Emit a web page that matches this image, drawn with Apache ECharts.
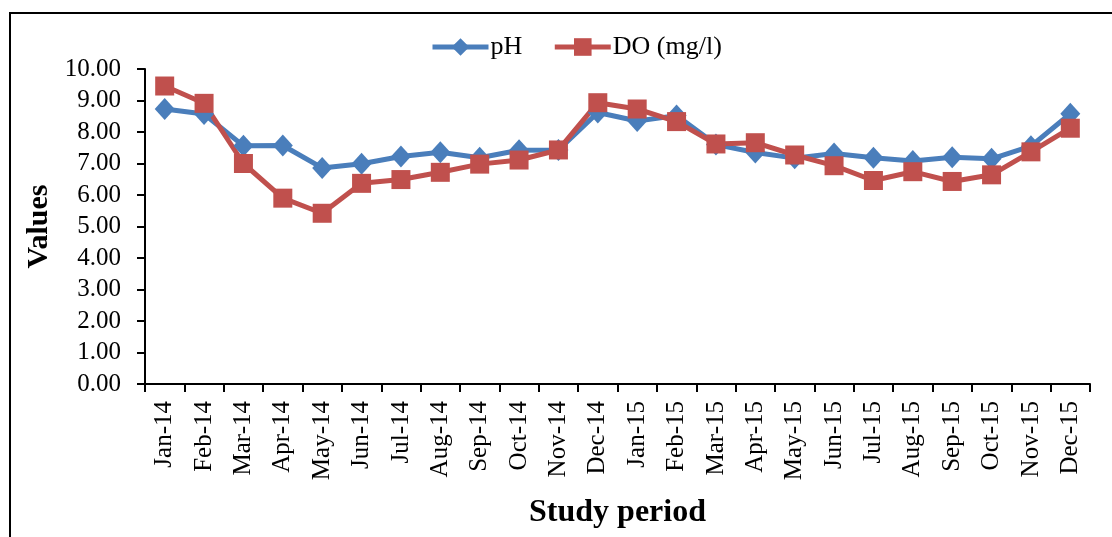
<!DOCTYPE html>
<html>
<head>
<meta charset="utf-8">
<script src="https://cdn.jsdelivr.net/npm/echarts@6/dist/echarts.min.js"></script>
<style>
html,body{margin:0;padding:0;background:#fff;}
#chart{width:1112px;height:537px;}
</style>
</head>
<body>
<div id="chart"></div>
<script>
const categories = ['Jan-14','Feb-14','Mar-14','Apr-14','May-14','Jun-14','Jul-14','Aug-14','Sep-14','Oct-14','Nov-14','Dec-14',
  'Jan-15','Feb-15','Mar-15','Apr-15','May-15','Jun-15','Jul-15','Aug-15','Sep-15','Oct-15','Nov-15','Dec-15'];
const phValues = [8.73,8.57,7.56,7.57,6.86,6.99,7.22,7.36,7.18,7.42,7.43,8.62,8.35,8.52,7.60,7.35,7.17,7.32,7.18,7.08,7.20,7.15,7.55,8.58];
const doValues = [9.46,8.91,7.00,5.90,5.42,6.37,6.49,6.72,6.98,7.11,7.43,8.93,8.73,8.33,7.62,7.66,7.27,6.93,6.46,6.74,6.43,6.64,7.37,8.12];
const yMin = 0, yMax = 10, yInterval = 1;

const font = 'Liberation Serif, Times New Roman, serif';
const chart = echarts.init(document.getElementById('chart'));
chart.setOption({
  animation: false,
  backgroundColor: '#fff',
  graphic: [{
    type: 'rect', shape: {x: 10, y: 13, width: 1200, height: 700},
    style: {fill: 'none', stroke: '#000', lineWidth: 2}, silent: true, z: -10
  }],
  legend: {
    top: 29, left: 425,
    itemWidth: 56, itemHeight: 22, itemGap: 30,
    lineStyle: {width: 5},
    textStyle: {fontFamily: font, fontSize: 26, color: '#000', padding: [0, 0, 0, -3]},
    data: ['pH', 'DO (mg/l)']
  },
  grid: {left: 145, right: 22, top: 69, bottom: 153, outerBoundsMode: 'none', containLabel: false},
  xAxis: {
    type: 'category', data: categories, boundaryGap: true,
    axisLine: {lineStyle: {color: '#000', width: 2}},
    axisTick: {show: true, alignWithLabel: false, length: 8, lineStyle: {color: '#000', width: 2}},
    axisLabel: {rotate: 90, interval: 0, margin: 17, fontFamily: font, fontSize: 25, color: '#000'},
    name: 'Study period', nameLocation: 'middle', nameGap: 113,
    nameTextStyle: {fontFamily: font, fontSize: 32, fontWeight: 'bold', color: '#000'}
  },
  yAxis: {
    type: 'value', min: yMin, max: yMax, interval: yInterval,
    axisLine: {show: true, lineStyle: {color: '#000', width: 2}},
    axisTick: {show: true, length: 8, lineStyle: {color: '#000', width: 2}},
    splitLine: {show: false},
    axisLabel: {formatter: v => v.toFixed(2), margin: 24, fontFamily: font, fontSize: 25, color: '#000'},
    name: 'Values', nameLocation: 'middle', nameGap: 88, nameRotate: 90,
    nameTextStyle: {fontFamily: font, fontSize: 30, fontWeight: 'bold', color: '#000'}
  },
  series: [
    {
      name: 'pH', type: 'line', data: phValues,
      symbol: 'diamond', symbolSize: [20, 22],
      lineStyle: {color: '#4A7EBB', width: 5},
      itemStyle: {color: '#4A7EBB'}
    },
    {
      name: 'DO (mg/l)', type: 'line', data: doValues,
      symbol: 'rect', symbolSize: 19,
      lineStyle: {color: '#C0504D', width: 5},
      itemStyle: {color: '#C0504D'}
    }
  ]
});
</script>
</body>
</html>
